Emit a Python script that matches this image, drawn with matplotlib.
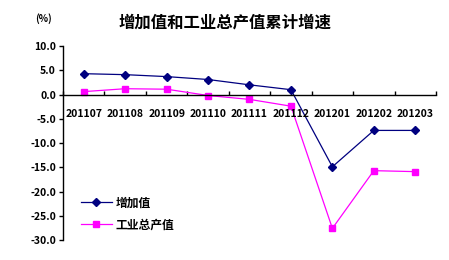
import numpy as np
import matplotlib
matplotlib.use('Agg')
import matplotlib.pyplot as plt

plt.rcParams['font.family'] = ['Noto Sans CJK SC', 'DejaVu Sans']
plt.rcParams['axes.unicode_minus'] = False

months = ['201107', '201108', '201109', '201110', '201111', '201112', '201201', '201202', '201203']
added_value = [4.3, 4.1, 3.7, 3.1, 2.0, 1.0, -14.9, -7.4, -7.4]
gross_output = [0.6, 1.2, 1.1, -0.2, -1.0, -2.4, -27.6, -15.7, -15.9]
yticks = [10, 5, 0, -5, -10, -15, -20, -25, -30]

fig = plt.figure(figsize=(4.49, 2.6), dpi=100)
ax = fig.add_axes([0.1403, 0.0769, 0.8307, 0.746])

x = np.arange(len(months))
ax.plot(x, added_value, '-', color='#000080', lw=0.9, marker='D', ms=4.5,
        mfc='#000080', mec='#000080', label='增加值')
ax.plot(x, gross_output, '-', color='#FF00FF', lw=0.9, marker='s', ms=5,
        mfc='#FF00FF', mec='#FF00FF', label='工业总产值')

ax.set_xlim(-0.5, len(months) - 0.5)
ax.set_ylim(-30, 10)

# spines: left axis and x axis at zero
ax.spines['top'].set_visible(False)
ax.spines['right'].set_visible(False)
ax.spines['bottom'].set_position(('data', 0))
ax.spines['left'].set_linewidth(1.0)
ax.spines['bottom'].set_linewidth(1.0)

ax.set_yticks(yticks)
ax.set_yticklabels(['%.1f' % v for v in yticks], fontsize=7.5, fontweight='bold')
ax.tick_params(axis='y', direction='out', length=3, width=1, pad=2)

# category boundaries as ticks, labels in the middle
ax.set_xticks(np.arange(0, len(months) + 1) - 0.5)
ax.set_xticklabels([])
ax.tick_params(axis='x', direction='in', length=3, width=1)
for i, m in enumerate(months):
    ax.text(i, -4.0, m, ha='center', va='center', fontsize=7.5, fontweight='bold')

fig.text(0.5, 0.915, '增加值和工业总产值累计增速', ha='center', va='center',
         fontsize=11.8, fontweight='bold')
fig.text(0.096, 0.927, '(%)', ha='center', va='center', fontsize=7, fontweight='bold')

leg = ax.legend(loc='lower left', bbox_to_anchor=(0.02, -0.01), frameon=False,
                prop={'size': 8.5, 'weight': 'bold'}, handlelength=2.6,
                labelspacing=0.75, handletextpad=0.3)

fig.savefig('out.png', dpi=100)
